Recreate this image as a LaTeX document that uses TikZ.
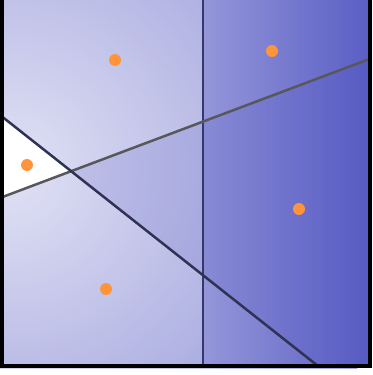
\documentclass[tikz,border=0pt]{standalone}
\usepackage{xcolor}
\usepackage{tikz}
\definecolor{cellblue}{RGB}{72,76,190}
\definecolor{siteorange}{RGB}{255,148,58}
\definecolor{edgenavy}{RGB}{52,56,110}
\definecolor{edgegray}{RGB}{88,88,92}
\definecolor{edgedark}{RGB}{48,50,84}
\pgfdeclareradialshading{basefade}{\pgfpoint{0bp}{0bp}}{color(0bp)=(white); color(25bp)=(cellblue!50!white); color(50bp)=(cellblue!50!white)}

\begin{document}
\begin{tikzpicture}[
    x=0.02cm, y=-0.02cm,
    site/.style={
        circle,
        fill=siteorange,
        inner sep=0pt,
        minimum size=0.24cm
    },
    cut/.style={line width=0.05cm},
    halfplane/.style={fill=cellblue, fill opacity=0.16}
]
\useasboundingbox (0,0) rectangle (372,375);

% Frame corners
\coordinate (tl) at (2,0);
\coordinate (bl) at (2,366);
\coordinate (br) at (370,366);
\coordinate (tr) at (370,0);

% Ends of the three cuts
\coordinate (vtop) at (203,0);
\coordinate (vbot) at (203,366);
\coordinate (aleft) at (2,197.2);
\coordinate (aright) at (370,58.8);
\coordinate (dleft) at (2,116.6);
\coordinate (dright) at (318,366);
\coordinate (meet) at (71.4,171.1);

% Shaded cells
\begin{scope}
\clip (0,0) rectangle (372,368);
\shade[shading=basefade] (10,170) circle [radius=400];
\shade[left color=cellblue!50!white, right color=cellblue!88!white] (vtop) rectangle (br);
\fill[halfplane] (dleft) -- (dright) -- (br) -- (tr) -- (tl) -- cycle;
\fill[halfplane] (aleft) -- (aright) -- (br) -- (bl) -- cycle;
\fill[white] (dleft) -- (meet) -- (aleft) -- cycle;
\end{scope}

% Cuts
\draw[cut, edgenavy] (vtop) -- (vbot);
\draw[cut, edgegray] (aleft) -- (aright);
\draw[cut, edgedark] (dleft) -- (dright);

% Frame
\draw[black, line width=0.08cm] (tl) -- (bl) -- (br) -- (tr);

% Sites
\node[site] (s1) at (115,60) {};
\node[site] (s2) at (272,51) {};
\node[site] (s3) at (27,165) {};
\node[site] (s4) at (299,209) {};
\node[site] (s5) at (106,289) {};

\end{tikzpicture}
\end{document}
